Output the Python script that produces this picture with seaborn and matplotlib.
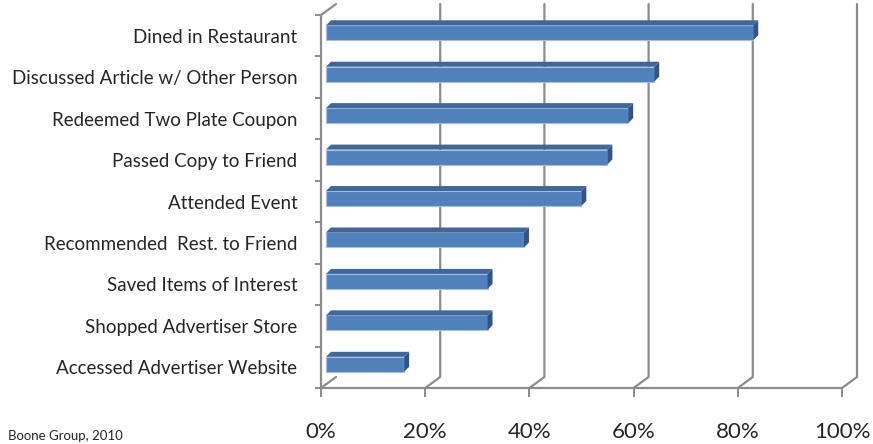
import seaborn as sns
import pandas as pd
import numpy as np
import matplotlib.pyplot as plt
from matplotlib.patches import Polygon
from matplotlib.transforms import offset_copy

# Survey responses (share of readers)
activities = ['Dined in Restaurant', 'Discussed Article w/ Other Person',
              'Redeemed Two Plate Coupon', 'Passed Copy to Friend',
              'Attended Event', 'Recommended  Rest. to Friend',
              'Saved Items of Interest', 'Shopped Advertiser Store',
              'Accessed Advertiser Website']
shares = [82, 63, 58, 54, 49, 38, 31, 31, 15]
x_ticks = [0, 20, 40, 60, 80, 100]
x_labels = ['0%', '20%', '40%', '60%', '80%', '100%']

df = pd.DataFrame({'activity': activities, 'share': shares})

W, H = 873, 444
fig = plt.figure(figsize=(W / 100, H / 100), dpi=100)
sns.set_style('white')
plt.rcParams['font.family'] = ['Lato', 'DejaVu Sans']

# front plane of the 3d box: 0% at x=321px, 100% at 842px, rows 15px..388px
ax = fig.add_axes([321 / W, 56 / H, 521 / W, 373 / H])
ax.set_xlim(0, 100)
ax.set_ylim(len(activities) - 0.5, -0.5)

px_x = 521 / 100          # pixels per percent
px_y = 373 / len(activities)  # pixels per row
grid_col = '#8c8c8c'

# back wall offset of the box
wall_dx, wall_dy = 15 / px_x, 11 / px_y
y_top, y_bot = -0.5, len(activities) - 0.5

# back wall grid lines with the floor diagonals
for t in x_ticks[1:]:
    ax.plot([t + wall_dx, t + wall_dx, t], [y_top - wall_dy, y_bot - wall_dy, y_bot],
            color=grid_col, lw=1.6, clip_on=False, zorder=1)
# left wall edges
ax.plot([0, 0], [y_top, y_bot], color=grid_col, lw=1.6, clip_on=False, zorder=1)
ax.plot([0, wall_dx], [y_top, y_top - wall_dy], color=grid_col, lw=1.6, clip_on=False, zorder=1)
ax.plot([0, wall_dx], [y_bot, y_bot - wall_dy], color=grid_col, lw=1.6, clip_on=False, zorder=1)
# floor front edge
ax.plot([0, 100], [y_bot, y_bot], color=grid_col, lw=1.6, clip_on=False, zorder=1)

sns.barplot(data=df, x='share', y='activity', orient='h', color='#4f81bd',
            width=0.36, saturation=1, ax=ax, zorder=3)

# shift bars into the box and give them top and side faces
bar_tr = offset_copy(ax.transData, fig=fig, x=5, y=3, units='dots')
depth_x, depth_y = 5 / px_x, 5 / px_y
for p in ax.patches[:]:
    p.set_transform(bar_tr)
    p.set_edgecolor('#a7bedf')
    p.set_linewidth(0.8)
    x0, y0 = p.get_x(), p.get_y()
    x1, y1 = x0 + p.get_width(), y0 + p.get_height()
    top = Polygon([[x0, y0], [x1, y0], [x1 + depth_x, y0 - depth_y], [x0 + depth_x, y0 - depth_y]],
                  closed=True, facecolor='#3f6797', edgecolor='none', transform=bar_tr,
                  clip_on=False, zorder=3)
    side = Polygon([[x1, y0], [x1, y1], [x1 + depth_x, y1 - depth_y], [x1 + depth_x, y0 - depth_y]],
                   closed=True, facecolor='#2f5587', edgecolor='none', transform=bar_tr,
                   clip_on=False, zorder=3)
    ax.add_patch(top)
    ax.add_patch(side)

for s in ax.spines.values():
    s.set_visible(False)

ax.set_xlabel('')
ax.set_ylabel('')
ax.set_xticks(x_ticks)
ax.set_xticklabels(x_labels, fontsize=16)
ax.tick_params(axis='x', length=6.5, width=1.4, color=grid_col, pad=18, bottom=True)
ax.set_yticks(range(len(activities)))
ax.set_yticklabels(activities, fontsize=13.5)
ax.tick_params(axis='y', length=0, pad=17)
ax.set_yticks(np.arange(len(activities) + 1) - 0.5, minor=True)
ax.tick_params(axis='y', which='minor', length=4, width=1.4, color=grid_col, left=True)
ax.set_facecolor('none')

fig.text(8 / W, 1 - 436 / H, 'Boone Group, 2010', fontsize=9.5, va='center', ha='left')

fig.savefig('out.png', dpi=100)
